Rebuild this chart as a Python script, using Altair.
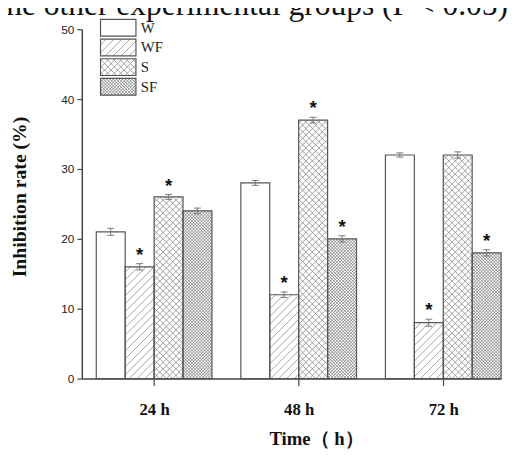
import math
import altair as alt
import pandas as pd

# ---------------- data ----------------
times = ["24 h", "48 h", "72 h"]
series = ["W", "WF", "S", "SF"]
val_W = [21, 28, 32]
val_WF = [16, 12, 8]
val_S = [26, 37, 32]
val_SF = [24, 20, 18]
err_W = [0.5, 0.35, 0.3]
err_WF = [0.45, 0.4, 0.5]
err_S = [0.35, 0.4, 0.45]
err_SF = [0.4, 0.45, 0.45]
sig_W = [False, False, False]
sig_WF = [True, True, True]
sig_S = [True, True, False]
sig_SF = [False, True, True]
caption = "the other experimental groups (P < 0.05)"
x_title = "Time（ h）"
y_title = "Inhibition rate (%)"
y_ticks = [0, 10, 20, 30, 40, 50]

values = {"W": val_W, "WF": val_WF, "S": val_S, "SF": val_SF}
errors = {"W": err_W, "WF": err_WF, "S": err_S, "SF": err_SF}
sigs = {"W": sig_W, "WF": sig_WF, "S": sig_S, "SF": sig_SF}

# ---------------- layout ----------------
W_PX, H_PX = 426, 355
XMAX, YMAX = 14.5, 50
GROUP = 5           # units per time group (4 bars + gap)
OFFSET = 0.5
sx = W_PX / XMAX
sy = H_PX / YMAX

xs = alt.Scale(domain=[0, XMAX], nice=False, zero=False)
ys = alt.Scale(domain=[0, YMAX], nice=False, zero=False)

rows = []
for g, t in enumerate(times):
    for s_i, s in enumerate(series):
        x0 = OFFSET + GROUP * g + s_i
        v = values[s][g]
        e = errors[s][g]
        rows.append(dict(time=t, series=s, x0=x0, x1=x0 + 1, xc=x0 + 0.5,
                         cl=x0 + 0.5 - 3.5 / sx, cr=x0 + 0.5 + 3.5 / sx,
                         base=0, value=v, lo=v - e, hi=v + e,
                         star="*" if sigs[s][g] else ""))
bars = pd.DataFrame(rows)

patterns = {
    "W": [],
    "WF": [(1, 8.0)],
    "S": [(1, 6.6), (-1, 6.6)],
    "SF": [(1, 3.2), (-1, 3.2)],
}
pat_style = {"WF": ("#8a8a8a", 0.8), "S": ("#8a8a8a", 0.8), "SF": ("#5e5e5e", 0.6)}


def hatch(xa, xb, ya, yb, step, direction):
    Xa, Xb, Ya, Yb = xa * sx, xb * sx, ya * sy, yb * sy
    segs = []
    if direction == 1:
        k0 = math.ceil((Ya - Xb) / step)
        k1 = math.floor((Yb - Xa) / step)
        for k in range(k0, k1 + 1):
            c = k * step
            X1 = max(Xa, Ya - c)
            X2 = min(Xb, Yb - c)
            if X2 - X1 > 0.05:
                segs.append((X1, X1 + c, X2, X2 + c))
    else:
        k0 = math.ceil((Xa + Ya) / step)
        k1 = math.floor((Xb + Yb) / step)
        for k in range(k0, k1 + 1):
            c = k * step
            X1 = max(Xa, c - Yb)
            X2 = min(Xb, c - Ya)
            if X2 - X1 > 0.05:
                segs.append((X1, c - X1, X2, c - X2))
    return [dict(x=a / sx, y=b / sy, x2=c / sx, y2=d / sy) for a, b, c, d in segs]


# legend boxes (pixel layout converted to data units)
PLOT_TOP_PAGE = 26
leg_left_px, leg_right_px = 19, 55
leg_rows = []
for i, s in enumerate(series):
    top_px = 16 + 20 * i - PLOT_TOP_PAGE
    bot_px = top_px + 17
    leg_rows.append(dict(series=s, x0=leg_left_px / sx, x1=leg_right_px / sx,
                         y0=(H_PX - bot_px) / sy, y1=(H_PX - top_px) / sy,
                         ym=(H_PX - (top_px + bot_px) / 2) / sy,
                         xt=(leg_right_px + 5) / sx))
legend = pd.DataFrame(leg_rows)

hatch_rows = []
for _, r in bars.iterrows():
    for d, step in patterns[r.series]:
        for seg in hatch(r.x0, r.x1, 0, r.value, step, d):
            seg["series"] = r.series
            hatch_rows.append(seg)
for _, r in legend.iterrows():
    for d, step in patterns[r.series]:
        for seg in hatch(r.x0, r.x1, r.y0, r.y1, step, d):
            seg["series"] = r.series
            hatch_rows.append(seg)
hatches = pd.DataFrame(hatch_rows)

# x labels expression
expr = f"'{times[-1]}'"
for g in reversed(range(len(times) - 1)):
    expr = f"datum.value < {GROUP * (g + 1)} ? '{times[g]}' : " + expr

x_axis = alt.Axis(values=[OFFSET + GROUP * g + 2 for g in range(len(times))],
                  labelExpr=expr, grid=False, title=x_title,
                  labelFont="Liberation Serif", labelFontWeight="bold", labelFontSize=17,
                  labelColor="#111", labelPadding=16, tickSize=7, tickColor="#444",
                  tickWidth=1.2, domainColor="#444", domainWidth=1.5,
                  titleFont="Liberation Serif", titleFontWeight="bold", titleFontSize=19,
                  titleColor="#111", titleX=238, titleY=67, titleAlign="center",
                  titleBaseline="alphabetic", titleAnchor="start")
y_axis = alt.Axis(values=y_ticks, grid=False, title=y_title, format="d",
                  labelFont="Liberation Sans", labelFontSize=12, labelColor="#222",
                  labelPadding=3, tickSize=5, tickColor="#444", tickWidth=1.2,
                  domainColor="#444", domainWidth=1.5,
                  titleFont="Liberation Serif", titleFontWeight="bold", titleFontSize=20,
                  titleColor="#111", titleAngle=270, titleX=-63, titleY=170,
                  titleAlign="center", titleBaseline="middle", titleAnchor="start")


def X(f):
    return alt.X(f, scale=xs, axis=x_axis)


def Y(f):
    return alt.Y(f, scale=ys, axis=y_axis)


base = alt.Chart(bars)
lg = alt.Chart(legend)

fills = base.mark_rect(fill="white", strokeWidth=0).encode(
    x=X("x0:Q"), x2="x1:Q", y=Y("base:Q"), y2="value:Q")
leg_fill = lg.mark_rect(fill="white", strokeWidth=0).encode(
    x=X("x0:Q"), x2="x1:Q", y=Y("y0:Q"), y2="y1:Q")

hatch_layers = []
for s, (col, w) in pat_style.items():
    hatch_layers.append(
        alt.Chart(hatches).transform_filter(alt.datum.series == s)
        .mark_rule(color=col, strokeWidth=w)
        .encode(x=X("x:Q"), y=Y("y:Q"), x2="x2:Q", y2="y2:Q")
    )

outlines = base.mark_rect(fillOpacity=0, stroke="#555", strokeWidth=1.2).encode(
    x=X("x0:Q"), x2="x1:Q", y=Y("base:Q"), y2="value:Q")

err_v = base.mark_rule(color="#777", strokeWidth=1).encode(
    x=X("xc:Q"), y=Y("lo:Q"), y2="hi:Q")
cap_hi = base.mark_rule(color="#777", strokeWidth=1).encode(
    x=X("cl:Q"), x2="cr:Q", y=Y("hi:Q"))
cap_lo = base.mark_rule(color="#777", strokeWidth=1).encode(
    x=X("cl:Q"), x2="cr:Q", y=Y("lo:Q"))
stars = base.mark_text(font="Liberation Sans", fontWeight="bold", fontSize=19,
                       color="#111", baseline="alphabetic", dy=-3).encode(
    x=X("xc:Q"), y=Y("hi:Q"), text="star:N")

leg_out = lg.mark_rect(fillOpacity=0, stroke="#555", strokeWidth=1.2).encode(
    x=X("x0:Q"), x2="x1:Q", y=Y("y0:Q"), y2="y1:Q")
leg_txt = lg.mark_text(font="Liberation Serif", fontSize=15, color="#222",
                       align="left", baseline="middle").encode(
    x=X("xt:Q"), y=Y("ym:Q"), text="series:N")

cap = alt.Chart(pd.DataFrame({"t": [caption]})).mark_text(
    font="Liberation Serif", fontSize=32, color="#111", align="right",
    baseline="alphabetic").encode(x=alt.value(433), y=alt.value(-14), text="t:N")

chart = alt.layer(
    fills, leg_fill, *hatch_layers, outlines, err_v, cap_hi, cap_lo, stars,
    leg_out, leg_txt, cap
).properties(
    width=W_PX, height=H_PX,
    autosize=alt.AutoSizeParams(type="none"),
    padding={"left": 75, "top": 18, "right": 6, "bottom": 70},
    background="white",
).configure_view(stroke=None)

chart.save("out.html", embed_options={"renderer": "svg", "actions": False})
